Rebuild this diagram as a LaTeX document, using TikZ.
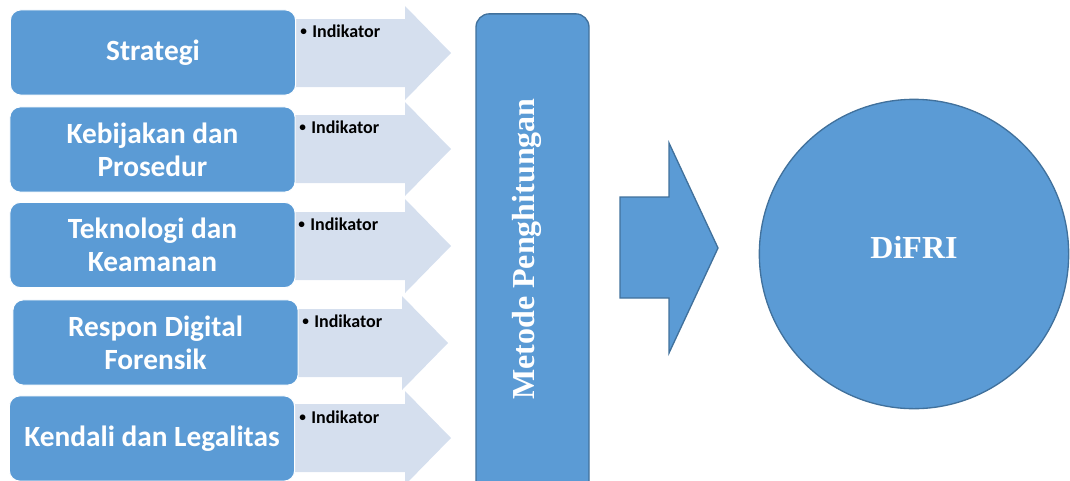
\documentclass[tikz,border=0pt]{standalone}
\usepackage{fontspec}
\setmainfont{Carlito}
\newfontfamily\timesbf{Liberation Serif}
\usetikzlibrary{positioning}

\definecolor{boxblue}{HTML}{5B9BD5}
\definecolor{edgeblue}{HTML}{41719C}
\definecolor{paleblue}{HTML}{D5DFEE}

\tikzset{
  catbox/.style={draw=white, line width=0.8pt, fill=boxblue, rounded corners=8pt,
    minimum width=214pt, minimum height=64pt, text=white, align=center,
    font=\fontsize{22}{24.5}\selectfont\bfseries},
  indik/.style={anchor=west, inner sep=0pt, font=\fontsize{13.5}{15}\selectfont\bfseries},
  bigshape/.style={draw=edgeblue, line width=1pt, fill=boxblue}
}
\newcommand{\indbullet}{\raisebox{0.12em}{\fontsize{10}{10}\selectfont\textbullet}\hspace{0.3em}}

\begin{document}
\begin{tikzpicture}[x=0.75pt, y=-0.75pt]
  \clip (0,0) rectangle (1070,480);

  \foreach \y/\dx in {53/0,149/0,246/0,343/-3,438/0}
    \fill [paleblue] (280,\y-34) -- (405+\dx,\y-34) -- (405+\dx,\y-47) -- (451+\dx,\y)
      -- (405+\dx,\y+47) -- (405+\dx,\y+34) -- (280,\y+34) -- cycle;

  \node [catbox] (strat) at (153,52.5) {Strategi};
  \node [catbox] (kebij) at (152.5,149.5) {Kebijakan dan\\Prosedur};
  \node [catbox] (tekno) at (152.5,245) {Teknologi dan\\Keamanan};
  \node [catbox] (respon) at (155.5,342.5) {Respon Digital\\Forensik};
  \node [catbox] (kendali) at (152,438.5) {Kendali dan Legalitas};

  \node [indik] (i1) at (300,31) {\indbullet Indikator};
  \node [indik] (i2) at (299,127) {\indbullet Indikator};
  \node [indik] (i3) at (298,224) {\indbullet Indikator};
  \node [indik] (i4) at (302,321) {\indbullet Indikator};
  \node [indik] (i5) at (299,417) {\indbullet Indikator};

  \node [bigshape, rounded corners=10pt, minimum width=84.75pt, minimum height=361pt,
    inner sep=0pt] (metode) at (532.5,254.5) {};
  \node [rotate=90, text=white, font=\timesbf\fontsize{24}{28}\selectfont\bfseries]
    (metodetxt) at (527,249) {Metode Penghitungan};

  \draw [bigshape] (620,197) -- (669,197) -- (669,143) -- (718,248) -- (669,353)
    -- (669,298) -- (620,298) -- cycle;

  \node [bigshape, circle, minimum size=232pt, inner sep=0pt] (difri) at (914,254) {};
  \node [text=white, font=\timesbf\fontsize{24}{28}\selectfont\bfseries]
    (difritxt) at (914,247) {DiFRI};
\end{tikzpicture}
\end{document}
